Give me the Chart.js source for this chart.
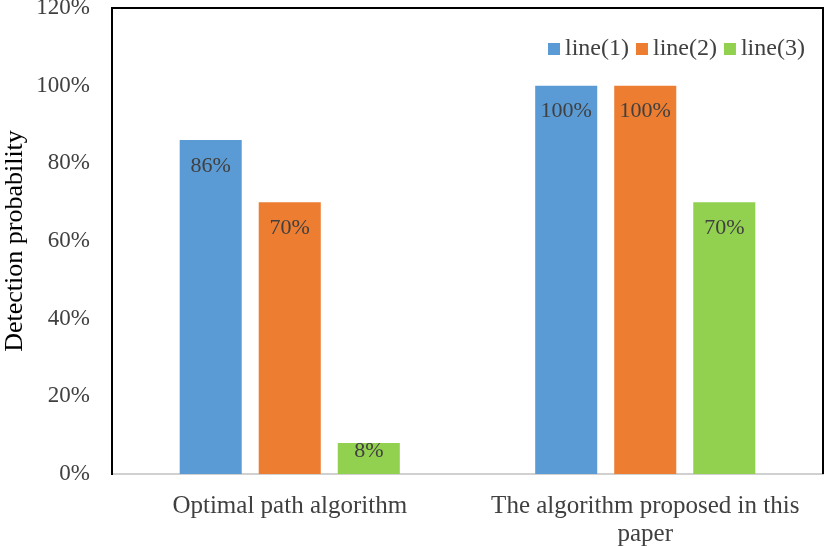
<!DOCTYPE html>
<html>
<head>
<meta charset="utf-8">
<script src="https://cdn.jsdelivr.net/npm/chart.js"></script>
<style>
  html, body { margin: 0; padding: 0; background: #fff; }
  #wrap { width: 826px; height: 546px; }
</style>
</head>
<body>
<div id="wrap"><canvas id="detChart" width="826" height="546"></canvas></div>
<script>
var categories = [["Optimal path algorithm"], ["The algorithm proposed in this", "paper"]];
var seriesNames = ["line(1)", "line(2)", "line(3)"];
var line1 = [0.86, 1.00];
var line2 = [0.70, 1.00];
var line3 = [0.08, 0.70];
var yTicks = [0, 0.2, 0.4, 0.6, 0.8, 1.0, 1.2];
var colors = ["#5B9BD5", "#ED7D31", "#92D050"];
var serif = "'Liberation Serif', 'Times New Roman', serif";

function pct(v) { return Math.round(v * 100) + "%"; }

var labelPlugin = {
  id: 'barLabels',
  afterDatasetsDraw: function(chart) {
    var ctx = chart.ctx;
    ctx.save();
    ctx.font = "22px " + serif;
    ctx.fillStyle = "#404040";
    ctx.textAlign = "center";
    ctx.textBaseline = "middle";
    chart.data.datasets.forEach(function(ds, i) {
      chart.getDatasetMeta(i).data.forEach(function(bar, j) {
        var h = bar.base - bar.y;
        var off = h > 50 ? 26 : 8;
        ctx.fillText(pct(ds.data[j]), bar.x, bar.y + off);
      });
    });
    ctx.restore();
  }
};

var framePlugin = {
  id: 'frame',
  afterDraw: function(chart) {
    var a = chart.chartArea, ctx = chart.ctx;
    ctx.save();
    ctx.strokeStyle = "#000";
    ctx.lineWidth = 2;
    ctx.beginPath();
    ctx.moveTo(a.left, a.top);
    ctx.lineTo(a.right, a.top);
    ctx.lineTo(a.right, a.bottom);
    ctx.stroke();
    // legend
    ctx.font = "24px " + serif;
    ctx.textBaseline = "middle";
    ctx.textAlign = "left";
    var x = 548, y = 49;
    seriesNames.forEach(function(n, i) {
      ctx.fillStyle = colors[i];
      ctx.fillRect(x, y - 6, 12, 12);
      ctx.fillStyle = "#404040";
      ctx.fillText(n, x + 17, y);
      x += 17 + ctx.measureText(n).width + 7;
    });
    ctx.restore();
  }
};

new Chart(document.getElementById("detChart"), {
  type: 'bar',
  data: {
    labels: categories,
    datasets: [
      { label: seriesNames[0], data: line1, backgroundColor: colors[0] },
      { label: seriesNames[1], data: line2, backgroundColor: colors[1] },
      { label: seriesNames[2], data: line3, backgroundColor: colors[2] }
    ]
  },
  options: {
    responsive: false,
    animation: false,
    layout: { padding: { top: 8, right: 3, left: 0, bottom: 0 } },
    datasets: { bar: { categoryPercentage: 0.667, barPercentage: 0.785 } },
    plugins: {
      legend: { display: false },
      tooltip: { enabled: false }
    },
    scales: {
      x: {
        grid: { display: false, drawTicks: false },
        border: { color: "#d0d0d0", width: 2 },
        ticks: { color: "#404040", font: { family: serif, size: 25, lineHeight: 1.12 }, padding: 18, maxRotation: 0 },
        afterFit: function(s) { s.height = 72; }
      },
      y: {
        min: 0, max: 1.2,
        afterBuildTicks: function(s) { s.ticks = yTicks.map(function(v) { return { value: v }; }); },
        grid: { display: false, drawTicks: false },
        border: { color: "#000", width: 2 },
        ticks: { color: "#404040", font: { family: serif, size: 23 }, padding: 22, callback: function(v) { return pct(v); } },
        title: { display: true, text: "Detection probability", color: "#000", font: { family: serif, size: 26 }, padding: 0 },
        afterFit: function(s) { s.width = 112; s.paddingTop = 0; s.paddingBottom = 0; }
      }
    }
  },
  plugins: [labelPlugin, framePlugin]
});
</script>
</body>
</html>
